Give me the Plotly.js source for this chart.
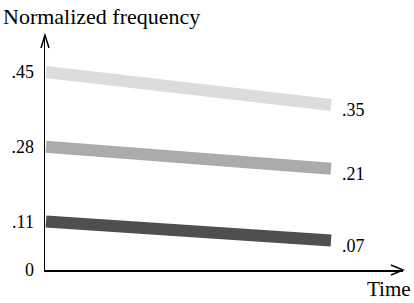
<!DOCTYPE html>
<html>
<head>
<meta charset="utf-8">
<script src="https://cdn.plot.ly/plotly-3.0.1.min.js"></script>
<style>html,body{margin:0;padding:0;background:#fff;}#chart{width:414px;height:303px;}</style>
</head>
<body>
<div id="chart"></div>
<script>
// Data
const timePoints = [0, 1];
const seriesStart = [0.45, 0.28, 0.11];
const seriesEnd = [0.375, 0.23, 0.067];
const endLabels = [".35", ".21", ".07"];
const seriesColors = ["#dcdcdc", "#ababab", "#4f4f4f"];
const tickValues = [0, 0.11, 0.28, 0.45];
const tickLabels = ["0", ".11", ".28", ".45"];
const yTitle = "Normalized frequency";
const xTitle = "Time";

const serif = "Liberation Serif";

const traces = seriesStart.map((s, i) => ({
  x: timePoints,
  y: [s, seriesEnd[i]],
  type: "scatter",
  mode: "lines",
  line: {color: seriesColors[i], width: 12},
  hoverinfo: "skip",
  showlegend: false
}));

const annotations = seriesEnd.map((v, i) => ({
  x: timePoints[1], y: v, xref: "x", yref: "y",
  text: endLabels[i], showarrow: false,
  xanchor: "left", yanchor: "middle", xshift: 9, yshift: -5,
  font: {family: serif, size: 18, color: "#000"}
}));

annotations.push({
  xref: "paper", yref: "paper", x: 1, y: 0,
  text: xTitle, showarrow: false, xanchor: "right", yanchor: "top",
  xshift: 10, yshift: -5,
  font: {family: serif, size: 21, color: "#000"}
});

const layout = {
  width: 414, height: 303,
  margin: {l: 45, r: 11, t: 35, b: 33, pad: 0},
  paper_bgcolor: "#fff", plot_bgcolor: "#fff",
  font: {family: serif, color: "#000"},
  title: {
    text: yTitle, xref: "container", yref: "container",
    x: 3 / 414, xanchor: "left", y: 1 - 16 / 303, yanchor: "middle",
    font: {family: serif, size: 22, color: "#000"}
  },
  xaxis: {
    range: [-1 / 285, 357 / 285],
    showgrid: false, zeroline: false, showticklabels: false, ticks: "",
    showline: true, linecolor: "#000", linewidth: 1.5, fixedrange: true
  },
  yaxis: {
    range: [0, 235.5 / 441],
    showgrid: false, zeroline: false, ticks: "",
    tickmode: "array", tickvals: tickValues, ticktext: tickLabels,
    ticklabelstandoff: 6,
    tickfont: {family: serif, size: 18, color: "#000"},
    showline: true, linecolor: "#000", linewidth: 1.5, fixedrange: true
  },
  shapes: [
    {type: "path", xref: "paper", yref: "paper", xsizemode: "pixel", ysizemode: "pixel",
     xanchor: 1, yanchor: 0, path: "M-12,-5 L0,0 L-12,5",
     line: {color: "#000", width: 1.5}},
    {type: "path", xref: "paper", yref: "paper", xsizemode: "pixel", ysizemode: "pixel",
     xanchor: 0, yanchor: 1, path: "M-4,-13 L0,0 L4,-13",
     line: {color: "#000", width: 1.5}}
  ],
  annotations: annotations
};

Plotly.newPlot("chart", traces, layout, {displayModeBar: false, staticPlot: true});
</script>
</body>
</html>
